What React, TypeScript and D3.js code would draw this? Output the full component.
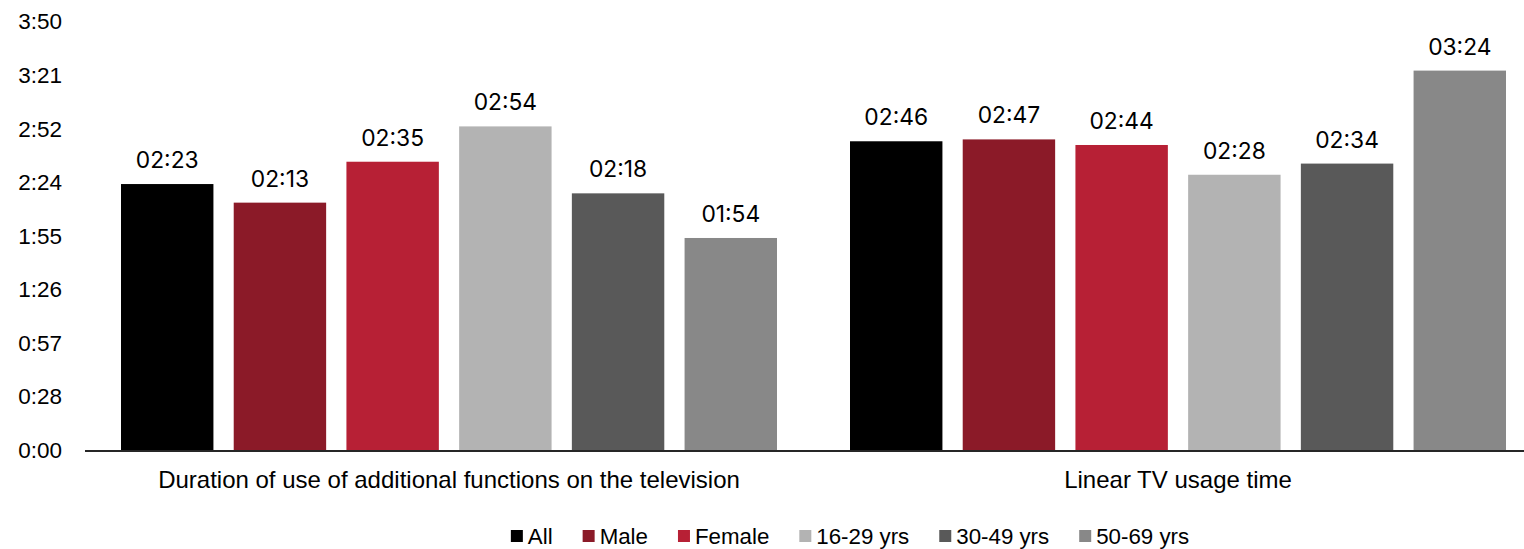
import React, { useMemo } from "react";
import * as d3 from "d3";

// Category groups on the x axis
const categories = [
  "Duration of use of additional functions on the television",
  "Linear TV usage time",
];

// Audience segments (one bar per segment within each group)
const segments = ["All", "Male", "Female", "16-29 yrs", "30-49 yrs", "50-69 yrs"];

// Usage time in minutes, per segment, for each category
const durationAdditional = [143, 133, 155, 174, 138, 114];
const linearTv = [166, 167, 164, 148, 154, 204];

const seriesByCategory = [durationAdditional, linearTv];

// Axis ticks in days (Excel time serials): 0 .. 0.16 step 0.02
const tickDays = [0, 0.02, 0.04, 0.06, 0.08, 0.1, 0.12, 0.14, 0.16];

const colors = ["#000000", "#8B1A28", "#B72035", "#B3B3B3", "#595959", "#888888"];

const W = 1524;
const H = 549;
const LABEL_FONT = "Liberation Sans, Arial, sans-serif";
const VALUE_FONT = "Inter, Roboto, sans-serif";

const fmtHM = (min: number) => {
  const h = Math.floor(min / 60);
  const m = Math.floor(min - h * 60 + 1e-9);
  return `${String(h).padStart(2, "0")}:${String(m).padStart(2, "0")}`;
};

const fmtTick = (days: number) => {
  const totalMin = Math.floor(days * 24 * 60 + 1e-9);
  const h = Math.floor(totalMin / 60);
  const m = totalMin % 60;
  return `${h}:${String(m).padStart(2, "0")}`;
};

function measure(text: string, font: string) {
  const c = document.createElement("canvas").getContext("2d");
  if (!c) return text.length * 11;
  c.font = font;
  return c.measureText(text).width;
}

export default function App() {
  const y = d3.scaleLinear().domain([0, 0.16 * 24 * 60]).range([450, 21.5]);
  const x0 = d3.scaleBand<string>().domain(categories).range([84.5, 1542.5]).padding(0);
  const x1 = d3
    .scaleBand<string>()
    .domain(segments)
    .range([36.5, x0.bandwidth() - 36.5])
    .paddingInner(0.18)
    .paddingOuter(0);

  const legendFontSize = 22.3;
  const legendItems = useMemo(() => {
    const sq = 12;
    const gapText = 5;
    const gapItem = 30;
    const widths = segments.map((s) => measure(s, `${legendFontSize}px ${LABEL_FONT}`));
    const total =
      widths.reduce((a, w) => a + sq + gapText + w, 0) + gapItem * (segments.length - 1);
    let cx = 850 - total / 2;
    return segments.map((s, i) => {
      const item = { name: s, x: cx, color: colors[i] };
      cx += sq + gapText + widths[i] + gapItem;
      return item;
    });
  }, []);

  return (
    <svg
      width={W}
      height={H}
      style={{ position: "absolute", left: 0, top: 0, background: "#fff" }}
    >
      {/* y axis labels */}
      {tickDays.map((t) => (
        <text
          key={t}
          x={62}
          y={y(t * 24 * 60)}
          dy="0.35em"
          textAnchor="end"
          fontFamily={LABEL_FONT}
          fontSize={22.5}
          fill="#000"
        >
          {fmtTick(t)}
        </text>
      ))}

      {/* bars and value labels */}
      {categories.map((cat, ci) => (
        <g key={cat} transform={`translate(${x0(cat)},0)`}>
          {segments.map((seg, si) => {
            const v = seriesByCategory[ci][si];
            const bx = x1(seg) as number;
            return (
              <g key={seg}>
                <rect
                  x={bx}
                  y={y(v)}
                  width={x1.bandwidth()}
                  height={y(0) - y(v)}
                  fill={colors[si]}
                />
                <text
                  x={bx + x1.bandwidth() / 2}
                  y={y(v) - 16}
                  textAnchor="middle"
                  fontFamily={VALUE_FONT}
                  fontSize={22.8}
                  fill="#000"
                >
                  {fmtHM(v)}
                </text>
              </g>
            );
          })}
          <text
            x={x0.bandwidth() / 2}
            y={488}
            textAnchor="middle"
            fontFamily={LABEL_FONT}
            fontSize={24}
            fill="#000"
          >
            {cat}
          </text>
        </g>
      ))}

      {/* x axis line */}
      <line x1={85} x2={W} y1={451} y2={451} stroke="#262626" strokeWidth={2} />

      {/* legend */}
      {legendItems.map((it) => (
        <g key={it.name}>
          <rect x={it.x} y={530} width={12} height={12} fill={it.color} />
          <text
            x={it.x + 17}
            y={544}
            fontFamily={LABEL_FONT}
            fontSize={legendFontSize}
            fill="#000"
          >
            {it.name}
          </text>
        </g>
      ))}
    </svg>
  );
}
